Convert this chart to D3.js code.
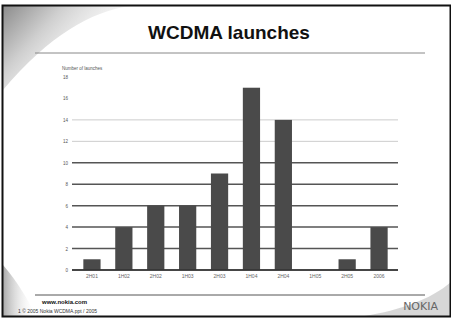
<!DOCTYPE html>
<html>
<head>
<meta charset="utf-8">
<script src="https://cdn.jsdelivr.net/npm/d3@7"></script>
<style>
  body { margin: 0; background: #fff; }
  svg { display: block; font-family: "Liberation Sans", Arial, sans-serif; }
</style>
</head>
<body>
<svg id="chart" width="451" height="320"></svg>
<script>
// data
var periods = ['2H01', '1H02', '2H02', '1H03', '2H03', '1H04', '2H04', '1H05', '2H05', '2006'],
    launches = [1, 4, 6, 6, 9, 17, 14, 0, 1, 4],
    yTicks = [0, 2, 4, 6, 8, 10, 12, 14, 16, 18];

var svg = d3.select('#chart'),
    width = +svg.attr('width'),
    height = +svg.attr('height');

// slide background
var defs = svg.append('defs');
var g1 = defs.append('linearGradient').attr('id', 'swoosh')
    .attr('x1', 0).attr('y1', 0).attr('x2', 1).attr('y2', 0.6);
g1.append('stop').attr('offset', 0).attr('stop-color', '#8c8c8c');
g1.append('stop').attr('offset', 0.35).attr('stop-color', '#cfcfcf');
g1.append('stop').attr('offset', 1).attr('stop-color', '#fff').attr('stop-opacity', 0);
var g2 = defs.append('linearGradient').attr('id', 'corner')
    .attr('x1', 0).attr('y1', 0).attr('x2', 1).attr('y2', 0);
g2.append('stop').attr('offset', 0).attr('stop-color', '#aaa');
g2.append('stop').attr('offset', 1).attr('stop-color', '#fff').attr('stop-opacity', 0);

svg.append('path')
    .attr('d', 'M3,6 L130,6 C90,12 50,35 3,90 Z')
    .attr('fill', 'url(#swoosh)');
svg.append('path')
    .attr('d', 'M3,265 C18,282 28,300 36,316 L3,316 Z')
    .attr('fill', 'url(#corner)');
svg.append('path')
    .attr('d', 'M451,282 C430,300 400,310 365,316 L451,316 Z')
    .attr('fill', '#d0d0d0').attr('opacity', 0.85);

// frame
svg.append('rect')
    .attr('x', 2.5).attr('y', 5.5)
    .attr('width', width - 3).attr('height', height - 9)
    .attr('fill', 'none').attr('stroke', '#111').attr('stroke-width', 2);

// title + rules
svg.append('text')
    .attr('x', 229).attr('y', 39)
    .attr('text-anchor', 'middle')
    .attr('font-size', 19).attr('font-weight', 'bold')
    .attr('fill', '#111')
    .text('WCDMA launches');
svg.append('line')
    .attr('x1', 35).attr('x2', 425).attr('y1', 53).attr('y2', 53)
    .attr('stroke', '#888').attr('stroke-width', 1);
svg.append('line')
    .attr('x1', 35).attr('x2', 425).attr('y1', 295).attr('y2', 295)
    .attr('stroke', '#555').attr('stroke-width', 1);

// scales
var x = d3.scaleBand()
    .domain(periods)
    .range([76, 395])
    .paddingInner(0.46)
    .paddingOuter(0.23);
var y = d3.scaleLinear()
    .domain([0, 18])
    .range([270, 77]);

// grid
svg.append('g')
  .selectAll('line')
  .data(yTicks.filter(function(d) { return d <= 14; }))
  .enter().append('line')
    .attr('x1', 72).attr('x2', 398)
    .attr('y1', function(d) { return y(d); })
    .attr('y2', function(d) { return y(d); })
    .attr('stroke', function(d) { return d >= 12 ? '#ccc' : '#555'; })
    .attr('stroke-width', function(d) { return d >= 12 ? 1 : 1.5; });

// y axis
var yAxis = svg.append('g')
    .attr('transform', 'translate(70,0)')
    .call(d3.axisLeft(y).tickValues(yTicks).tickSize(0).tickPadding(2));
yAxis.select('.domain').remove();
yAxis.selectAll('text').attr('font-size', 4.5).attr('fill', '#555');

svg.append('text')
    .attr('x', 62).attr('y', 70)
    .attr('font-size', 4.5).attr('fill', '#555')
    .text('Number of launches');

// bars
svg.append('g')
  .selectAll('rect')
  .data(launches)
  .enter().append('rect')
    .attr('x', function(d, i) { return x(periods[i]); })
    .attr('width', x.bandwidth())
    .attr('y', function(d) { return y(d); })
    .attr('height', function(d) { return y(0) - y(d); })
    .attr('fill', '#4a4a4a');

// x axis
var xAxis = svg.append('g')
    .attr('transform', 'translate(0,270)')
    .call(d3.axisBottom(x).tickSize(0).tickPadding(4));
xAxis.select('.domain')
    .attr('d', 'M72,0H398')
    .attr('stroke', '#333').attr('stroke-width', 1.5);
xAxis.selectAll('text').attr('font-size', 5).attr('fill', '#666');

// footer
svg.append('text')
    .attr('x', 42).attr('y', 304)
    .attr('font-size', 6).attr('font-weight', 'bold').attr('fill', '#111')
    .text('www.nokia.com');
svg.append('text')
    .attr('x', 18).attr('y', 313)
    .attr('font-size', 5).attr('fill', '#333')
    .text('1 © 2005 Nokia      WCDMA.ppt / 2005');
svg.append('text')
    .attr('x', 438).attr('y', 310)
    .attr('text-anchor', 'end')
    .attr('font-size', 11).attr('fill', '#666')
    .attr('font-family', '"DejaVu Sans", sans-serif')
    .text('NOKIA');
</script>
</body>
</html>
